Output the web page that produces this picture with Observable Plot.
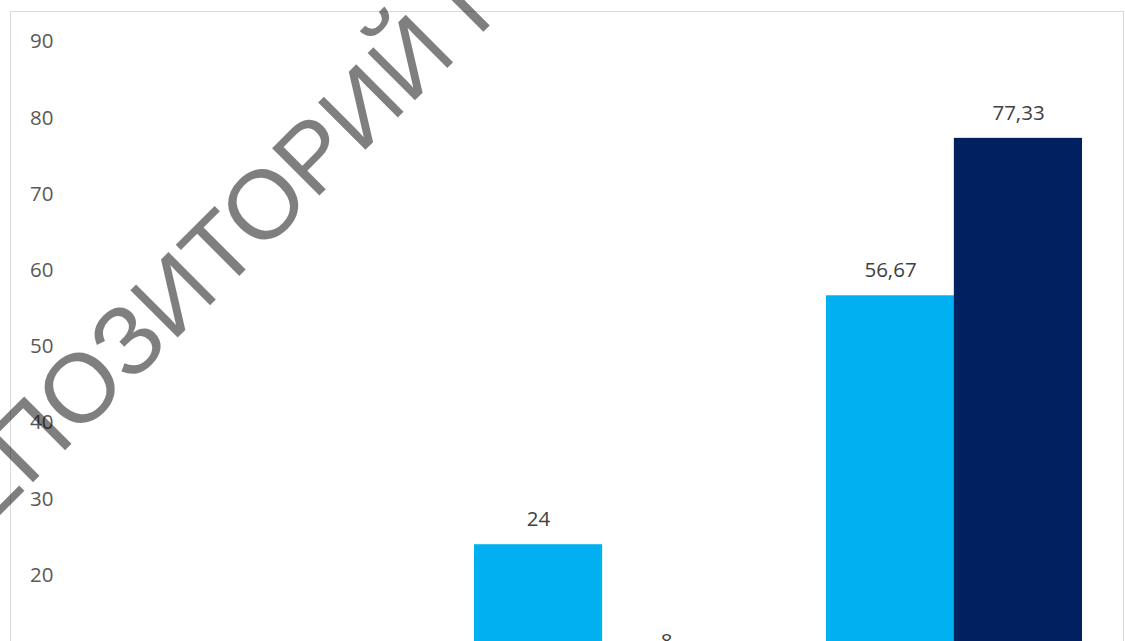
<!DOCTYPE html>
<html>
<head>
<meta charset="utf-8">
<script src="https://cdn.jsdelivr.net/npm/d3@7"></script>
<script src="https://cdn.jsdelivr.net/npm/@observablehq/plot@0.6"></script>
<style>
  html, body { margin: 0; padding: 0; background: #fff; }
  #wrap { position: relative; width: 1125px; height: 641px; overflow: hidden; background: #fff; }
  #frame { position: absolute; left: 10px; top: 11px; width: 1112px; height: 700px;
           border: 1.3px solid #d9d9d9; pointer-events: none; }
  #wm { position: absolute; left: 0; top: 0; pointer-events: none; }
</style>
</head>
<body>
<div id="wrap">
  <div id="chart"></div>
  <div id="frame"></div>
  <svg id="wm" width="1125" height="641">
    <text id="wmtext" font-family="Liberation Sans, Arial, sans-serif" font-size="95"
      fill="#000" fill-opacity="0.5"></text>
  </svg>
</div>
<script>
// ---- data ----
const categories = ["Категория 1", "Категория 2", "Категория 3"];
const seriesNames = ["Серия 1", "Серия 2"];
const series1Values = [0, 24, 56.67];
const series2Values = [0, 8, 77.33];
const yTicks = [0, 10, 20, 30, 40, 50, 60, 70, 80, 90];
const seriesColors = ["#00B0F0", "#002060"];
const watermarkText = "РЕПОЗИТОРИЙ ГГУ ИМЕНИ Ф. СКОРИНЫ";

const s1 = categories.map((c, i) => ({category: c, series: seriesNames[0], value: series1Values[i]}));
const s2 = categories.map((c, i) => ({category: c, series: seriesNames[1], value: series2Values[i]}));
const fmt = v => String(v).replace(".", ",");

const half = 127.85;

const chart = Plot.plot({
  width: 1125,
  height: 641,
  marginLeft: 60,
  marginRight: 0,
  marginTop: 0,
  marginBottom: 0,
  style: {fontFamily: "'Open Sans', sans-serif", background: "transparent"},
  x: {domain: categories, range: [73.7, 1129.9], paddingInner: 0.274, paddingOuter: 0.137, axis: null},
  y: {domain: [0, 90], range: [727.1, 41.3], axis: null},
  marks: [
    Plot.barY(s1, {x: "category", y: "value", fill: seriesColors[0], insetRight: half}),
    Plot.barY(s2, {x: "category", y: "value", fill: seriesColors[1], insetLeft: half}),
    Plot.text(s1.filter(d => d.value > 0), {x: "category", y: "value", text: d => fmt(d.value), dx: -64, dy: -25,
      fill: "#404040", fontSize: 20.5}),
    Plot.text(s2.filter(d => d.value > 0), {x: "category", y: "value", text: d => fmt(d.value), dx: 64, dy: -25,
      fill: "#404040", fontSize: 20.5}),
    Plot.axisY({ticks: yTicks, tickSize: 0, tickPadding: 7, label: null,
      fontSize: 20.5, color: "#595959"})
  ]
});
document.getElementById("chart").appendChild(chart);

// ---- watermark placement (diagonal overlay) ----
(function () {
  const t = document.getElementById("wmtext");
  t.textContent = watermarkText;
  const center = i => (t.getStartPositionOfChar(i).x + t.getEndPositionOfChar(i).x) / 2;
  // letters "О" at index 3 and 7 in "РЕПОЗИТОРИЙ"
  let fs = 95;
  const d0 = center(7) - center(3);
  fs = fs * 259.5 / d0;
  t.setAttribute("font-size", fs.toFixed(2));
  const u = center(3);
  const cap = 0.716 * fs;
  const c = Math.SQRT1_2;
  const px = 79 + c * cap / 2, py = 387 + c * cap / 2;
  const x0 = px - u * c, y0 = py + u * c;
  t.setAttribute("x", x0.toFixed(1));
  t.setAttribute("y", y0.toFixed(1));
  t.setAttribute("transform", `rotate(-45 ${x0.toFixed(1)} ${y0.toFixed(1)})`);
})();
</script>
</body>
</html>
